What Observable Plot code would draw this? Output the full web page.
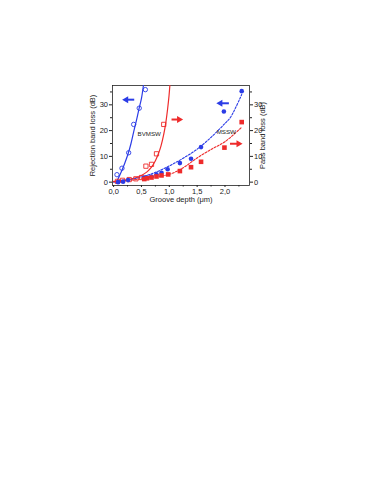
<!DOCTYPE html>
<html>
<head>
<meta charset="utf-8">
<script src="https://cdn.jsdelivr.net/npm/d3@7"></script>
<script src="https://cdn.jsdelivr.net/npm/@observablehq/plot@0.6"></script>
<style>
  html, body { margin: 0; padding: 0; background: #fff; }
  #chart svg { display: block; }
</style>
</head>
<body>
<div id="chart"></div>
<script>
// BVMSW rejection band (open blue circles, left axis)
const bvRejX = [0.06, 0.15, 0.27, 0.36, 0.46, 0.57];
const bvRejY = [2.9, 5.4, 11.4, 22.4, 28.7, 35.9];
// BVMSW pass band (open red squares, right axis)
const bvPassX = [0.07, 0.16, 0.28, 0.40, 0.50, 0.58, 0.68, 0.77, 0.90];
const bvPassY = [0.3, 0.7, 1.0, 1.3, 1.8, 6.2, 6.9, 11.0, 22.4];
// MSSW rejection band (filled blue circles, left axis)
const msRejX = [0.08, 0.17, 0.26, 0.55, 0.60, 0.68, 0.77, 0.86, 0.97, 1.19, 1.39, 1.57, 1.98, 2.30];
const msRejY = [0.0, 0.2, 0.8, 1.7, 1.8, 2.2, 3.0, 3.6, 5.0, 7.4, 9.1, 13.6, 27.4, 35.3];
// MSSW pass band (filled red squares, right axis)
const msPassX = [0.55, 0.60, 0.68, 0.77, 0.86, 0.98, 1.19, 1.39, 1.57, 1.99, 2.30];
const msPassY = [1.2, 1.5, 1.8, 2.2, 2.6, 3.0, 4.3, 5.8, 7.9, 13.4, 23.3];

// fitted curves
const bvRejFitX = [0.05, 0.10, 0.15, 0.20, 0.26, 0.31, 0.36, 0.41, 0.46, 0.50, 0.535];
const bvRejFitY = [0.0, 2.2, 4.6, 7.3, 11.0, 14.8, 19.5, 24.0, 28.8, 32.5, 37.5];
const bvPassFitX = [0.0, 0.2, 0.4, 0.5, 0.6, 0.68, 0.75, 0.80, 0.85, 0.90, 0.94, 0.97, 0.995, 1.01];
const bvPassFitY = [0.3, 0.8, 1.7, 2.6, 4.0, 5.8, 8.3, 10.8, 14.0, 18.5, 23.5, 28.5, 33.5, 37.5];
const msRejFitX = [0.0, 0.25, 0.5, 0.75, 1.0, 1.25, 1.5, 1.75, 2.0, 2.1, 2.3];
const msRejFitY = [0.0, 0.8, 2.0, 3.8, 6.3, 9.3, 12.8, 17.4, 22.8, 25.2, 34.0];
const msPassFitX = [0.0, 0.25, 0.5, 0.75, 1.0, 1.25, 1.5, 1.75, 2.0, 2.3];
const msPassFitY = [0.2, 0.6, 1.3, 2.1, 3.0, 5.6, 9.4, 12.7, 15.7, 21.3];

// arrows: tail x, head x, y, series colour key
const arrowTail = [0.37, 1.04, 2.07, 2.09];
const arrowHead = [0.20, 1.20, 1.89, 2.27];
const arrowY = [32.0, 24.3, 30.6, 14.9];
const arrowKey = ["blue", "red", "blue", "red"];

const labelText = ["BVMSW", "MSSW"];
const labelX = [0.43, 1.85];
const labelY = [18.7, 19.4];

const xTicks = [0, 0.5, 1.0, 1.5, 2.0];
const xMinor = [0.25, 0.75, 1.25, 1.75, 2.25];
const yTicks = [0, 10, 20, 30];
const yMinor = [5, 15, 25, 35];

const BLUE = "#2b3ce6";
const RED = "#ee2b2b";
const colorOf = k => k === "blue" ? BLUE : RED;

const zip = (xs, ys) => xs.map((x, i) => ({x, y: ys[i]}));
const arrows = arrowTail.map((t, i) => ({x1: t, x2: arrowHead[i], y: arrowY[i], c: colorOf(arrowKey[i]), dir: arrowHead[i] < t ? -90 : 90}));
const labels = labelText.map((t, i) => ({t, x: labelX[i], y: labelY[i]}));
const fmt = d => d.toFixed(1).replace(".", ",");

const chart = Plot.plot({
  width: 374,
  height: 484,
  marginLeft: 112,
  marginRight: 125,
  marginTop: 85,
  marginBottom: 299,
  style: {fontFamily: "'Liberation Sans', Arial, sans-serif", fontSize: "7.5px", background: "#fff", color: "#222"},
  x: {domain: [-0.02, 2.44]},
  y: {domain: [-1.3, 37.5]},
  marks: [
    Plot.frame({stroke: "#222", strokeWidth: 0.8}),
    Plot.axisX({ticks: xTicks, tickFormat: fmt, tickSize: 2, tickPadding: 1, label: null, fontSize: 7.5, fill: "#222"}),
    Plot.axisX({ticks: xMinor, tickFormat: () => "", tickSize: 1.5, label: null}),
    Plot.text(["Groove depth (μm)"], {frameAnchor: "bottom", dy: 11, lineAnchor: "top", fontSize: 7.5, fill: "#222"}),
    Plot.axisY({ticks: yTicks, tickSize: 3, tickPadding: 1.5, label: "Rejection band loss (dB)", labelAnchor: "center", labelOffset: 23, labelArrow: "none", fontSize: 7.5, fill: "#222"}),
    Plot.axisY({ticks: yMinor, tickFormat: () => "", tickSize: 2, label: null}),
    Plot.axisY({anchor: "right", ticks: yTicks, tickSize: 3, tickPadding: 1.5, label: "Pass band loss (dB)", labelAnchor: "center", labelOffset: 15.5, labelArrow: "none", fontSize: 7.5, fill: "#222"}),
    Plot.axisY({anchor: "right", ticks: yMinor, tickFormat: () => "", tickSize: 2, label: null}),

    Plot.line(zip(bvRejFitX, bvRejFitY), {x: "x", y: "y", stroke: BLUE, strokeWidth: 1.2, curve: "catmull-rom", clip: true}),
    Plot.line(zip(bvPassFitX, bvPassFitY), {x: "x", y: "y", stroke: RED, strokeWidth: 1.2, curve: "catmull-rom", clip: true}),
    Plot.line(zip(msRejFitX, msRejFitY), {x: "x", y: "y", stroke: BLUE, strokeWidth: 1.1, strokeDasharray: "2,1.5", curve: "catmull-rom", clip: true}),
    Plot.line(zip(msPassFitX, msPassFitY), {x: "x", y: "y", stroke: RED, strokeWidth: 1.1, strokeDasharray: "2,1.5", curve: "catmull-rom", clip: true}),

    Plot.dot(zip(bvRejX, bvRejY), {x: "x", y: "y", r: 2.2, stroke: BLUE, strokeWidth: 0.9, fill: "none"}),
    Plot.dot(zip(bvPassX, bvPassY), {x: "x", y: "y", r: 2.4, symbol: "square", stroke: RED, strokeWidth: 0.9, fill: "none"}),
    Plot.dot(zip(msRejX, msRejY), {x: "x", y: "y", r: 2.3, fill: BLUE, stroke: "none"}),
    Plot.dot(zip(msPassX, msPassY), {x: "x", y: "y", r: 2.6, symbol: "square", fill: RED, stroke: "none"}),

    Plot.link(arrows, {x1: "x1", x2: d => d.x2 + (d.x1 - d.x2) * 0.3, y1: "y", y2: "y", stroke: d => d.c, strokeWidth: 2}),
    Plot.dot(arrows, {x: d => d.x2 + (d.x1 - d.x2) * 0.15, y: "y", symbol: "triangle", r: 2.6, fill: d => d.c, stroke: "none", rotate: "dir"}),

    Plot.text(labels, {x: "x", y: "y", text: "t", textAnchor: "start", fontSize: 6.2, fill: "#222"})
  ]
});
document.getElementById("chart").appendChild(chart);
</script>
</body>
</html>
